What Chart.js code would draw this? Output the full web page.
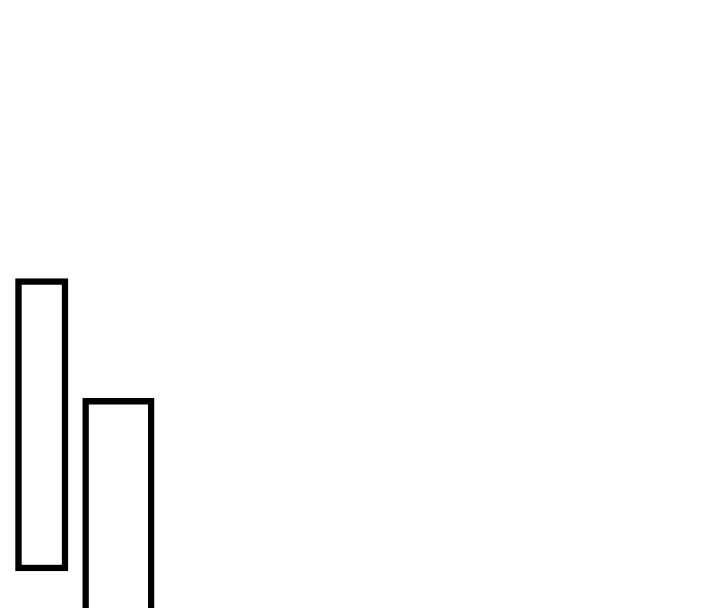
<!DOCTYPE html>
<html>
<head>
<meta charset="utf-8">
<script src="https://cdn.jsdelivr.net/npm/chart.js@4/dist/chart.umd.min.js"></script>
<style>
  html, body { margin: 0; padding: 0; background: #fff; }
  canvas { display: block; }
</style>
</head>
<body>
<canvas id="chart" width="720" height="608"></canvas>
<script>
// Two floating bars (axis units = 0..720 across, 0..608 up)
const barNames = ['A', 'B'];
const barPositions = [41.75, 118.4];
const barLows = [37, -20];
const barHighs = [329.5, 209.7];

const ctx = document.getElementById('chart').getContext('2d');

// same stack name so the bars are not pushed side by side as a group
const datasets = barNames.map((name, i) => ({
    label: name,
    data: [{ x: barPositions[i], y: [barLows[i], barHighs[i]] }],
    stack: 'one',
    backgroundColor: '#ffffff',
    borderColor: '#000000',
    borderWidth: 6.5,
    borderSkipped: false,
    barThickness: i === 0 ? 52.5 : 71.5
}));

new Chart(ctx, {
    type: 'bar',
    data: { datasets: datasets },
    options: {
        responsive: false,
        animation: false,
        devicePixelRatio: 1,
        layout: { padding: 0 },
        plugins: {
            legend: { display: false },
            tooltip: { enabled: false }
        },
        scales: {
            x: {
                type: 'linear',
                display: false,
                offset: false,
                min: 0,
                max: 720
            },
            y: {
                type: 'linear',
                display: false,
                stacked: false,
                min: 0,
                max: 608
            }
        }
    }
});
</script>
</body>
</html>
